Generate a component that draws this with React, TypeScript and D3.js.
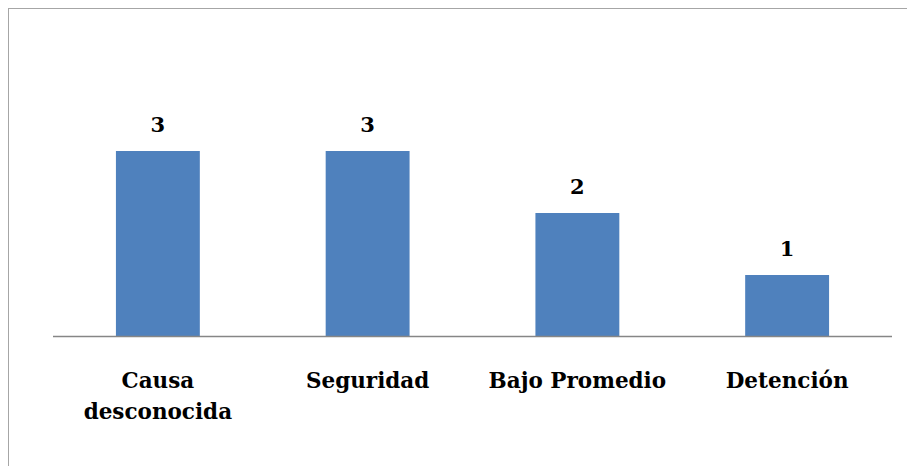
import React from "react";
import * as d3 from "d3";

const categories = ["Causa desconocida", "Seguridad", "Bajo Promedio", "Detención"];
const categoryLines = [["Causa", "desconocida"], ["Seguridad"], ["Bajo Promedio"], ["Detención"]];
const values = [3, 3, 2, 1];

const W = 915;
const H = 466;
const OFF = 8; // body margin

export default function App() {
  const x = d3.scaleBand<string>().domain(categories).range([53 - OFF, 892 - OFF]).paddingInner(0.6).paddingOuter(0.3);
  const y = d3.scaleLinear().domain([0, 3]).range([337 - OFF, 151 - OFF]);
  const font = "'DejaVu Serif', serif";
  return (
    <svg width={W - OFF} height={H - OFF} style={{ display: "block" }}>
      <rect x={0} y={0} width={W + 20} height={H + 20} fill="#fff" stroke="#a6a6a6" strokeWidth={2} />
      {categories.map((c, i) => (
        <rect key={c} x={x(c)} y={y(values[i])} width={x.bandwidth()} height={y(0) - y(values[i])} fill="#4F81BD" />
      ))}
      <line x1={53 - OFF} x2={892 - OFF} y1={y(0) - 0.5} y2={y(0) - 0.5} stroke="#868686" strokeWidth={1.3} />
      {categories.map((c, i) => (
        <text key={"v" + c} x={(x(c) as number) + x.bandwidth() / 2} y={y(values[i]) - 19} textAnchor="middle" fontFamily={font} fontWeight="bold" fontSize={21} fill="#000">
          {values[i]}
        </text>
      ))}
      {categories.map((c, i) => (
        <text key={"c" + c} x={(x(c) as number) + x.bandwidth() / 2} y={388 - OFF} textAnchor="middle" fontFamily={font} fontWeight="bold" fontSize={21.5} fill="#000">
          {categoryLines[i].map((l, j) => (
            <tspan key={j} x={(x(c) as number) + x.bandwidth() / 2} dy={j === 0 ? 0 : 31}>{l}</tspan>
          ))}
        </text>
      ))}
    </svg>
  );
}
